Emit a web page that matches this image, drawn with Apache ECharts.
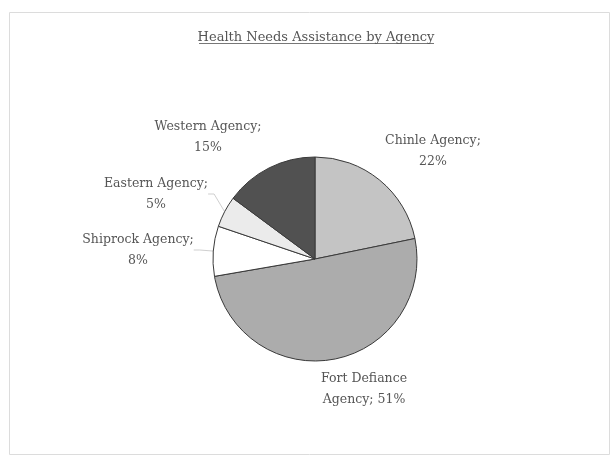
<!DOCTYPE html>
<html>
<head>
<meta charset="utf-8">
<script src="https://cdn.jsdelivr.net/npm/echarts@6/dist/echarts.min.js"></script>
<style>html,body{margin:0;padding:0;background:#fff}#c{width:615px;height:456px}</style>
</head>
<body>
<div id="c"></div>
<script>
const titleText = 'Health Needs Assistance by Agency';
const categories = ['Chinle Agency', 'Fort Defiance Agency', 'Shiprock Agency', 'Eastern Agency', 'Western Agency'];
const values = [22, 51, 8, 5, 15];
const sliceColors = ['#c4c4c4', '#acacac', '#ffffff', '#ebebeb', '#515151'];
const labelCenters = [[433, 151], [364, 389], [138, 250], [156, 194], [208, 137]];
const showLeader = [false, false, true, true, false];

const chart = echarts.init(document.getElementById('c'), null, {renderer: 'canvas'});
const font = '"DejaVu Serif", "Liberation Serif", serif';

chart.setOption({
  backgroundColor: '#fff',
  animation: false,
  title: {
    text: titleText,
    left: 311, top: 26, textAlign: 'center',
    textStyle: {fontFamily: font, fontSize: 13, fontWeight: 'normal', color: '#555'}
  },
  graphic: [
    {type: 'rect', shape: {x: 9.5, y: 12.5, width: 600, height: 442}, style: {fill: 'none', stroke: '#dcdcdc', lineWidth: 1}, silent: true},
    {type: 'line', shape: {x1: 199, y1: 43.5, x2: 434, y2: 43.5}, style: {stroke: '#777', lineWidth: 1}, silent: true}
  ],
  series: [{
    type: 'pie',
    center: [315, 259],
    radius: [0, 102],
    startAngle: 90,
    clockwise: true,
    avoidLabelOverlap: false,
    data: categories.map((n, i) => ({
      name: n, value: values[i],
      itemStyle: {color: sliceColors[i]},
      labelLine: {show: showLeader[i]}
    })),
    itemStyle: {borderColor: '#3a3a3a', borderWidth: 1},
    label: {
      show: true,
      position: 'outside',
      fontFamily: font, fontSize: 12.5, color: '#555', lineHeight: 21, align: 'center',
      formatter: p => p.dataIndex === 1
        ? p.name.replace(' Agency', '\nAgency') + '; ' + p.value + '%'
        : p.name + ';\n' + p.value + '%'
    },
    labelLine: {length: 6, length2: 6, lineStyle: {color: '#cfcfcf', width: 1}},
    labelLayout: params => {
      const c = labelCenters[params.dataIndex];
      return {x: c[0], y: c[1], align: 'center', verticalAlign: 'middle'};
    },
    emphasis: {disabled: true}
  }]
});
</script>
</body>
</html>
